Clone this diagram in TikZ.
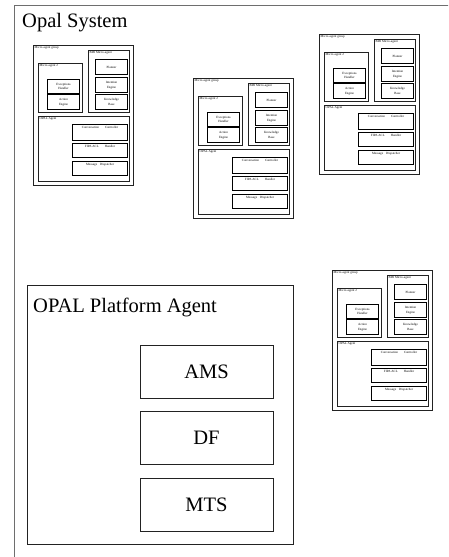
\documentclass[tikz,border=0pt]{standalone}
\usepackage{fontspec}
\setmainfont{Liberation Serif}
\usepackage{xcolor}
\definecolor{framegray}{HTML}{6E6E6E}
\definecolor{boxblack}{HTML}{222222}

% one micro-agent group: name prefix, top-left x, top-left y
\newcommand{\microgroup}[3]{%
  \begin{scope}[shift={(#2,#3)}]
    \node[grpbox, minimum width=100pt, minimum height=140pt] (#1-grp) at (0,0) {};
    \node[tinytxt] at (#1-grp.north west) {Micro-agent group};
    % micro-agent 2
    \node[subbox, minimum width=44pt, minimum height=49pt] (#1-ma) at (5,18) {};
    \node[tinytxt] at (#1-ma.north west) {Micro-agent 2};
    \node[unitbox, minimum width=32pt, minimum height=14pt] (#1-exc) at (14,34) {Exceptions\\Handler};
    \node[unitbox, minimum width=32pt, minimum height=15pt] (#1-act) at (14,49) {Action\\Engine};
    % BDI micro-agent
    \node[subbox, minimum width=41pt, minimum height=62pt] (#1-bdi) at (55,5) {};
    \node[tinytxt] at (#1-bdi.north west) {BDI Micro-agent};
    \node[unitbox, minimum width=32pt, minimum height=15pt] (#1-pla) at (62,14) {Planner};
    \node[unitbox, minimum width=32pt, minimum height=15pt] (#1-int) at (62,32) {Intention\\Engine};
    \node[unitbox, minimum width=32pt, minimum height=15pt] (#1-kno) at (62,49) {Knowledge\\Base};
    % OPAL agent
    \node[subbox, minimum width=91pt, minimum height=65pt] (#1-opa) at (5,71) {};
    \node[tinytxt] at (#1-opa.north west) {OPAL Agent};
    \node[unitbox, minimum width=55pt, minimum height=16pt] (#1-con) at (39,79) {};
    \node[toptxt] at (#1-con.north) {Conversation\hspace{6pt}Controller};
    \node[unitbox, minimum width=55pt, minimum height=14pt] (#1-fip) at (39,98) {};
    \node[toptxt] at (#1-fip.north) {FIPA ACL\hspace{6pt}Handler\hspace{10pt}};
    \node[unitbox, minimum width=55pt, minimum height=14pt] (#1-msg) at (39,116) {};
    \node[toptxt] at (#1-msg.north) {Message\hspace{3pt}Dispatcher};
  \end{scope}}

\begin{document}
\begin{tikzpicture}[
  x=1pt, y=-1pt,
  grpbox/.style={rectangle, draw=boxblack, line width=0.8pt, anchor=north west, inner sep=0pt},
  subbox/.style={rectangle, draw=boxblack, line width=0.9pt, anchor=north west, inner sep=0pt},
  unitbox/.style={rectangle, draw=black, line width=1.1pt, anchor=north west, inner sep=0pt, align=center, font=\fontsize{3.2}{4.5}\selectfont},
  tinytxt/.style={anchor=north west, inner sep=1.5pt, font=\fontsize{3.2}{3.7}\selectfont},
  toptxt/.style={anchor=north, inner sep=2pt, font=\fontsize{3.2}{3.7}\selectfont},
  platbox/.style={rectangle, draw=boxblack, line width=0.8pt, inner sep=0pt, font=\fontsize{20.5}{24}\selectfont},
  bigtxt/.style={anchor=base west, inner sep=0pt, font=\fontsize{20.5}{24}\selectfont}
]
  \useasboundingbox (0,0) rectangle (448,557);
  \clip (0,0) rectangle (448,557);

  % system frame, open at right and bottom
  \node[rectangle, draw=framegray, line width=1pt, anchor=north west, inner sep=0pt,
        minimum width=460pt, minimum height=570pt] (sys) at (14,5) {};
  \node[bigtxt] (systitle) at (22,27) {Opal System};

  % agent groups
  \microgroup{g1}{33}{45}
  \microgroup{g2}{193}{78}
  \microgroup{g3}{319}{34}
  \microgroup{g4}{332}{270}

  % platform agent
  \node[rectangle, draw=boxblack, line width=0.8pt, anchor=north west, inner sep=0pt,
        minimum width=266pt, minimum height=259pt] (plat) at (27,285) {};
  \node[bigtxt] (plattitle) at (33,312) {OPAL Platform Agent};
  \node[platbox, minimum width=133pt, minimum height=53pt] (ams) at (206.5,371.5) {AMS};
  \node[platbox, minimum width=133pt, minimum height=53pt] (df) at (206.5,437.5) {DF};
  \node[platbox, minimum width=133pt, minimum height=53pt] (mts) at (206.5,504.5) {MTS};
\end{tikzpicture}
\end{document}
